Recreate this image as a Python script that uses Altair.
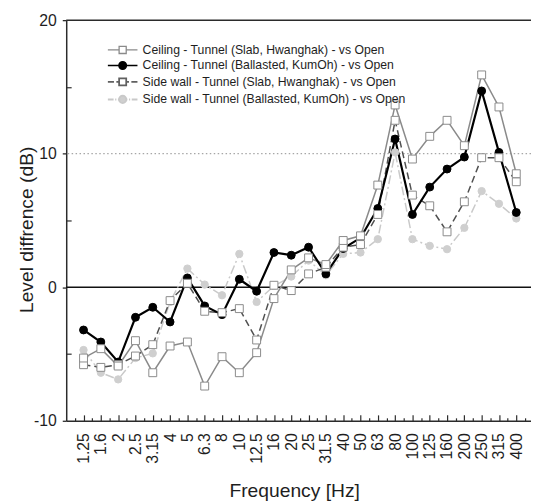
import altair as alt
import pandas as pd

freqs = ["1.25", "1.6", "2", "2.5", "3.15", "4", "5", "6.3", "8", "10", "12.5", "16",
         "20", "25", "31.5", "40", "50", "63", "80", "100", "125", "160", "200", "250",
         "315", "400"]

ceiling_slab = [-5.3, -4.6, -5.9, -4.0, -6.4, -4.4, -4.1, -7.4, -5.2, -6.4, -4.9, -0.85,
                1.3, 2.2, 1.7, 3.5, 3.85, 7.65, 13.65, 9.6, 11.3, 12.5, 10.6, 15.9, 13.5, 8.5]
ceiling_ballast = [-3.2, -4.1, -5.6, -2.25, -1.5, -2.6, 0.7, -1.4, -2.05, 0.6, -0.3, 2.6,
                   2.4, 3.0, 1.0, 2.9, 3.7, 5.9, 11.1, 5.45, 7.5, 8.85, 9.75, 14.7, 10.1, 5.6]
side_slab = [-5.8, -6.0, -5.8, -5.15, -4.3, -1.0, 0.3, -1.8, -1.9, -1.6, -3.95, 0.15,
             -0.25, 1.0, 1.5, 3.0, 3.2, 5.45, 12.5, 6.9, 6.1, 4.15, 6.4, 9.7, 9.7, 7.9]
side_ballast = [-4.7, -6.4, -6.9, -5.3, -4.95, -1.1, 1.4, 0.2, -0.6, 2.5, -1.1, 0.1,
                0.8, 2.0, 0.9, 2.5, 2.6, 3.6, 10.1, 3.6, 3.1, 2.85, 4.45, 7.2, 6.25, 5.15]

names = ["Ceiling - Tunnel (Slab, Hwanghak) - vs Open",
         "Ceiling - Tunnel (Ballasted, KumOh) - vs Open",
         "Side wall - Tunnel (Slab, Hwanghak) - vs Open",
         "Side wall - Tunnel (Ballasted, KumOh) - vs Open"]
series_values = [ceiling_slab, ceiling_ballast, side_slab, side_ballast]

rows = []
for name, vals in zip(names, series_values):
    for i, (f, v) in enumerate(zip(freqs, vals)):
        rows.append({"i": i, "freq": f, "v": v, "series": name})
df = pd.DataFrame(rows)
one = pd.DataFrame({"k": [0]})

FONT = "Liberation Sans"
TXT = "#1e1e1e"
AX = "#2b2b2b"

xscale = alt.Scale(domain=[-1, 25.85], nice=False, zero=False)
yscale = alt.Scale(domain=[-10, 20], nice=False, zero=False)

label_expr = "[" + ",".join("'%s'" % f for f in freqs) + "][round(datum.value)]"

x_main = alt.Axis(orient="bottom", values=list(range(len(freqs))), labelExpr=label_expr,
                  ticks=False, labelAngle=270, labelAlign="right", labelBaseline="middle",
                  labelPadding=12, labelFontSize=16, labelFont=FONT, labelColor=TXT,
                  labelFlush=False, labelOverlap=False, domain=True, domainColor=AX,
                  domainWidth=1.5, grid=False, title="Frequency [Hz]", titleFont=FONT,
                  titleFontSize=19.5, titleFontWeight="normal", titleColor=TXT,
                  titleBaseline="alphabetic", titleY=77, titleX=231)
y_main = alt.Axis(orient="left", values=[-10, 0, 10, 20], labelExpr="'' + datum.value",
                  tickSize=4, tickColor=AX, tickWidth=1.3, labelPadding=6, labelFontSize=16,
                  labelFont=FONT, labelColor=TXT, domain=True, domainColor=AX, domainWidth=1.5,
                  grid=False, title="Level diffrence (dB)", titleFont=FONT, titleFontSize=19.5,
                  titleFontWeight="normal", titleColor=TXT, titleAngle=270, titleAlign="center",
                  titleBaseline="alphabetic", titleX=-34, titleY=212)
x_ticks_major = alt.Axis(orient="bottom", values=list(range(len(freqs))), offset=-6, tickSize=6,
                         labels=False, domain=False, grid=False, title=None, tickColor=AX,
                         tickWidth=1.2)
x_ticks_minor = alt.Axis(orient="bottom", values=[k + 0.5 for k in range(-1, len(freqs))],
                         offset=-3, tickSize=3, labels=False, domain=False, grid=False,
                         title=None, tickColor=AX, tickWidth=1.2)
y_ticks_minor = alt.Axis(orient="left", values=[-5, 5, 15], offset=-5, tickSize=5,
                         labels=False, domain=False, grid=False, title=None, tickColor=AX,
                         tickWidth=1.2)

line_styles = [
    dict(color="#8a8a8a", strokeWidth=1.5),
    dict(color="#000000", strokeWidth=2.2),
    dict(color="#505050", strokeWidth=1.5, strokeDash=[7, 4]),
    dict(color="#c9c9c9", strokeWidth=1.5, strokeDash=[9, 3, 2, 3]),
]
point_styles = [
    dict(shape="square", fill="white", stroke="#8a8a8a", strokeWidth=1, size=64),
    dict(shape="circle", fill="#000000", stroke="#000000", strokeWidth=1, size=64),
    dict(shape="square", fill="white", stroke="#8a8a8a", strokeWidth=1, size=64),
    dict(shape="circle", fill="#cfcfcf", stroke="#cfcfcf", strokeWidth=1, size=55),
]
x_axes = [x_main, x_ticks_major, x_ticks_minor, None]
y_axes = [y_main, y_ticks_minor, None, None]

layers = []
for val, style in [(10, dict(color="#8f8f8f", strokeWidth=1, strokeDash=[1.5, 2.5])),
                   (0, dict(color="#111111", strokeWidth=1.6)),
                   (20, dict(color=AX, strokeWidth=1.5))]:
    layers.append(alt.Chart(one).mark_rule(**style).encode(
        y=alt.YDatum(val, scale=yscale, axis=None)))

for k in [3, 2, 0, 1]:
    layers.append(alt.Chart(df).transform_filter(alt.datum.series == names[k])
                  .mark_line(**line_styles[k]).encode(
                      x=alt.X("i:Q", scale=xscale, axis=x_axes[k]),
                      y=alt.Y("v:Q", scale=yscale, axis=y_axes[k])))
for k in [3, 1, 2, 0]:
    layers.append(alt.Chart(df).transform_filter(alt.datum.series == names[k])
                  .mark_point(filled=True, opacity=1, **point_styles[k]).encode(
                      x=alt.X("i:Q", scale=xscale, axis=None),
                      y=alt.Y("v:Q", scale=yscale, axis=None)))

# legend carrier (draws no marks, only defines the legend)
paths = [
    "M-3.75,0H-0.9M0.9,0H3.75M-0.9,-0.9H0.9V0.9H-0.9Z",
    "M-3.75,0H3.75M0.95,0A0.95,0.95,0,1,1,-0.95,0A0.95,0.95,0,1,1,0.95,0Z",
    "M-3.75,0H-2.2M-1.6,0H-0.9M0.9,0H1.6M2.2,0H3.75M-0.9,-0.9H0.9V0.9H-0.9Z",
    "M-3.75,0H-2.3M-1.9,0H-1.6M-1.2,0H-0.9M0.9,0H1.2M1.6,0H1.9M2.3,0H3.75M0.9,0A0.9,0.9,0,1,1,-0.9,0A0.9,0.9,0,1,1,0.9,0Z",
]
fills = ["white", "#000000", "white", "#cfcfcf"]
strokes = ["#8a8a8a", "#000000", "#606060", "#c9c9c9"]
widths = [1.3, 2.0, 1.3, 1.3]

def leg():
    return alt.Legend(title=None, orient="none", legendX=51, legendY=24, symbolSize=64,
                      labelFont=FONT, labelFontSize=12.4, labelColor=TXT, labelOffset=14,
                      labelLimit=400, rowPadding=1.7, padding=0)

layers.append(alt.Chart(df).transform_filter("false").mark_point(filled=True, opacity=1).encode(
    x=alt.X("i:Q", scale=xscale, axis=None),
    y=alt.Y("v:Q", scale=yscale, axis=None),
    fill=alt.Fill("series:N", scale=alt.Scale(domain=names, range=fills), legend=leg()),
    stroke=alt.Stroke("series:N", scale=alt.Scale(domain=names, range=strokes), legend=leg()),
    shape=alt.Shape("series:N", scale=alt.Scale(domain=names, range=paths), legend=leg()),
    strokeWidth=alt.StrokeWidth("series:N", scale=alt.Scale(domain=names, range=widths),
                                legend=leg()),
))

chart = alt.layer(*layers).resolve_axis(x="independent", y="independent").properties(
    width=471, height=406,
    autosize=alt.AutoSizeParams(type="none"),
    padding={"left": 59, "top": 9, "right": 0, "bottom": 81},
).configure_view(stroke=None)

chart.save("out.html", embed_options={"renderer": "svg", "actions": False})
